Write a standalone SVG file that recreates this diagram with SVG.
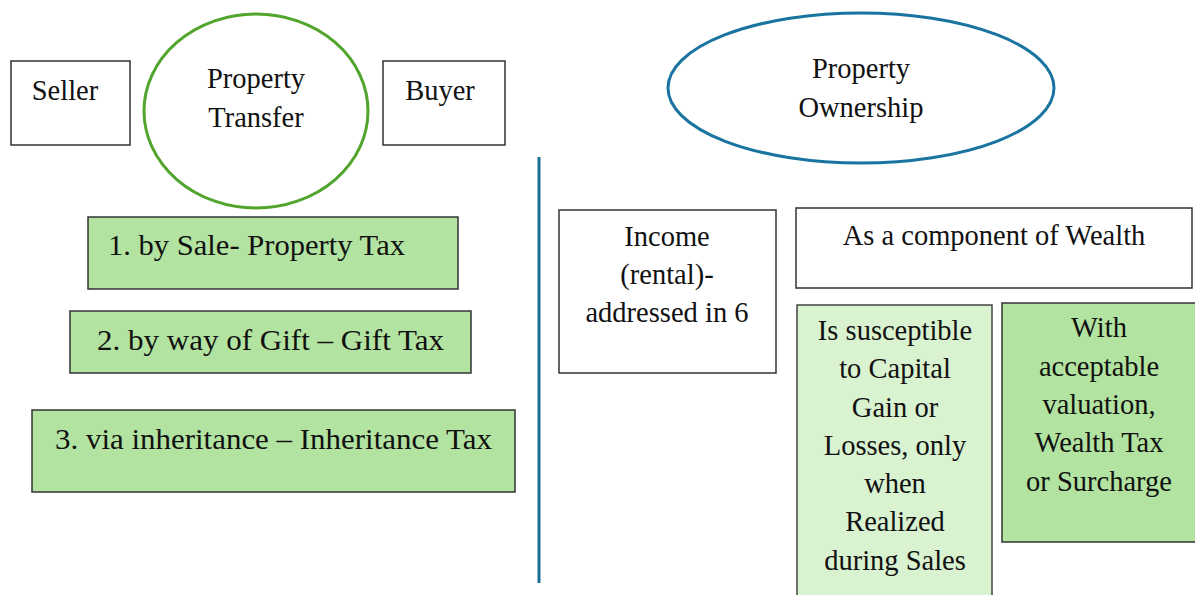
<svg xmlns="http://www.w3.org/2000/svg" width="1195" height="595" viewBox="0 0 1195 595">
<style>
text{font-family:"Liberation Serif","Times New Roman",serif;font-size:28.5px;fill:#111;text-anchor:middle}
.w{font-size:30px}
.box{fill:#fff;stroke:#333;stroke-width:1.5}
.g{fill:#b3e3a0;stroke:#333;stroke-width:1.5}
.lg{fill:#d9f2d0;stroke:#444;stroke-width:1.5}
</style>
<rect width="1195" height="595" fill="#fff"/>
<g id="connectors">
<line x1="539" y1="157" x2="539" y2="583" stroke="#1f6e97" stroke-width="3"/>
</g>
<g id="seller"><rect class="box" x="11" y="61" width="119" height="84"/><text x="65" y="100">Seller</text></g>
<g id="transfer"><ellipse cx="256" cy="111" rx="112" ry="97" fill="#fff" stroke="#52a52c" stroke-width="3"/><text x="256" y="88">Property</text><text x="256" y="127">Transfer</text></g>
<g id="buyer"><rect class="box" x="383" y="61" width="122" height="84"/><text x="440" y="100">Buyer</text></g>
<g id="sale"><rect class="g" x="88" y="217" width="370" height="72"/><text class="w" x="256.5" y="255" textLength="297" lengthAdjust="spacingAndGlyphs">1. by Sale- Property Tax</text></g>
<g id="gift"><rect class="g" x="70" y="311" width="401" height="62"/><text class="w" x="270.5" y="350" textLength="347" lengthAdjust="spacingAndGlyphs">2. by way of Gift – Gift Tax</text></g>
<g id="inherit"><rect class="g" x="32" y="410" width="483" height="82"/><text class="w" x="273.5" y="449" textLength="437" lengthAdjust="spacingAndGlyphs">3. via inheritance – Inheritance Tax</text></g>
<g id="ownership"><ellipse cx="861" cy="88" rx="193" ry="75" fill="#fff" stroke="#1a74a0" stroke-width="3"/><text x="861" y="78">Property</text><text x="861" y="117">Ownership</text></g>
<g id="income"><rect class="box" x="559" y="210" width="217" height="163"/><text x="667" y="246">Income</text><text x="667" y="284">(rental)-</text><text x="667" y="322">addressed in 6</text></g>
<g id="wealth"><rect class="box" x="796" y="208" width="396" height="80"/><text x="994" y="245">As a component of Wealth</text></g>
<g id="capital"><rect class="lg" x="797" y="305" width="195" height="300"/>
<text x="895" y="340">Is susceptible</text><text x="895" y="378">to Capital</text><text x="895" y="417">Gain or</text><text x="895" y="455">Losses, only</text><text x="895" y="493">when</text><text x="895" y="531">Realized</text><text x="895" y="570">during Sales</text></g>
<g id="wealthtax"><rect class="g" x="1002" y="303" width="200" height="239"/>
<text x="1099" y="337">With</text><text x="1099" y="376">acceptable</text><text x="1099" y="414">valuation,</text><text x="1099" y="452">Wealth Tax</text><text x="1099" y="491">or Surcharge</text></g>
</svg>
